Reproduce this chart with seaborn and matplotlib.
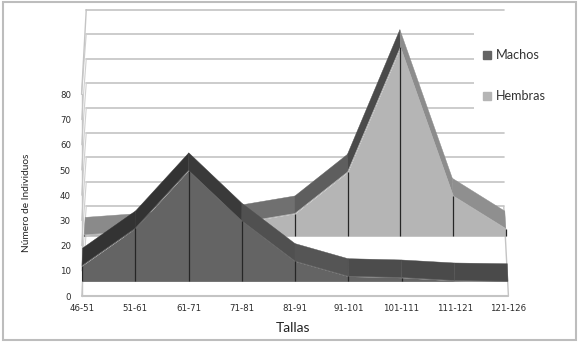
import matplotlib
matplotlib.use('Agg')
import matplotlib.pyplot as plt
from matplotlib.lines import Line2D
from matplotlib.patches import Rectangle
import pandas as pd
import seaborn as sns

tallas = ['46-51', '51-61', '61-71', '71-81', '81-91', '91-101', '101-111', '111-121', '121-126']
machos = [6.2, 21, 44, 24, 8, 2, 1.5, 0.3, 0]
hembras = [0.5, 2, 3.5, 5.5, 9, 25.5, 75, 16, 3]
y_ticks = [0, 10, 20, 30, 40, 50, 60, 70, 80]
back_grid = [0, 10, 20, 30, 40, 50, 60, 70, 80, 90]

# look of the fake 3d planes, in axis units
FLOOR_M, FLOOR_H, FLOOR_BACK = 5.8, 23.7, 25.8
DEPTH = 7.0
BACK_YSCALE = 0.976
strip_m = ['#333333', '#333333', '#3a3a3a', '#505050', '#555555', '#4c4c4c', '#4a4a4a', '#4a4a4a']
strip_h = ['#8a8a8a', '#858585', '#7d7d7d', '#707070', '#5e5e5e', '#4a4a4a', '#8c8c8c', '#8f8f8f']
FACE_M, FACE_H = '#646464', '#b5b5b5'
WALL = '#c4c4c4'

W, H = 580, 346
sns.set_theme(style='white')
plt.rcParams['font.family'] = ['Lato', 'DejaVu Sans']

fig = plt.figure(figsize=(W / 100, H / 100), dpi=100)
ax = fig.add_axes([82 / W, 1 - 296 / H, 426 / W, 286 / H])
ax.set_xlim(0, 8)
ax.set_ylim(0, 286 / 2.52)
ax.patch.set_alpha(0)
sns.despine(ax=ax, left=True, bottom=True)

# outer frame of the picture
fig.add_artist(Rectangle((3 / W, 1 - 340 / H), 573 / W, 338 / H, transform=fig.transFigure,
                         fc='white', ec='#bdbdbd', lw=1.5, zorder=-1))


def sx(i, s):
    # squeeze x towards the middle for planes further back
    return 4 + (i - 4) * s


# walls and gridlines
for k in back_grid:
    yb = FLOOR_BACK + BACK_YSCALE * k
    ax.plot([sx(0, 0.98), sx(8, 0.98)], [yb, yb], color=WALL, lw=1.2, zorder=1, clip_on=False)
    if k <= 80:
        ax.plot([sx(0, 1.002), sx(0, 0.98)], [k, yb], color='#d0d0d0', lw=0.8, zorder=1, clip_on=False)
ax.plot([sx(0, 1.002), sx(0, 0.98)], [80, FLOOR_BACK + BACK_YSCALE * 90], color=WALL, lw=1, zorder=1, clip_on=False)
ax.plot([sx(0, 1.002), sx(0, 1.002)], [0, 80], color=WALL, lw=1, zorder=1, clip_on=False)
ax.plot([sx(0, 1.002), sx(8, 1.002)], [0, 0], color=WALL, lw=1.5, zorder=1, clip_on=False)
ax.plot([sx(8, 1.002), sx(8, 0.98)], [0, FLOOR_BACK + BACK_YSCALE * 10], color=WALL, lw=1, zorder=1, clip_on=False)

# white box the legend sits on, it hides the gridlines there
fig.add_artist(Rectangle((474 / W, 1 - 122 / H), 45 / W, 92 / H, transform=fig.transFigure,
                         fc='white', ec='none', zorder=3))


def draw_series(values, floor, s_front, s_back, strips, face, z):
    n = len(values)
    xf = [sx(i, s_front) for i in range(n)]
    xb = [sx(i, s_back) for i in range(n)]
    tops = [floor + v for v in values]
    for i in range(n - 1):
        ax.fill([xf[i], xf[i + 1], xb[i + 1], xb[i]],
                [tops[i], tops[i + 1], tops[i + 1] + DEPTH, tops[i] + DEPTH],
                color=strips[i], lw=0.3, zorder=z, clip_on=False)
    ax.fill_between(xf, [floor] * n, tops, color=face, lw=0, zorder=z + 1)
    df = pd.DataFrame({'x': xf, 'top': tops})
    sns.lineplot(data=df, x='x', y='top', color=face, lw=0.6, sort=False, ax=ax, zorder=z + 1)
    ax.vlines(xf, floor, tops, color='#262626', lw=0.9, zorder=z + 2)


draw_series(hembras, FLOOR_H, 0.99, 0.985, strip_h, FACE_H, 5)
draw_series(machos, FLOOR_M, 1.0, 0.997, strip_m, FACE_M, 9)

ax.set_xticks(range(len(tallas)))
ax.set_xticklabels(tallas, fontsize=6.2, color='#2a2a2a', family='DejaVu Sans')
ax.set_yticks(y_ticks)
ax.set_yticklabels(y_ticks, fontsize=6.2, color='#2a2a2a', family='DejaVu Sans')
ax.tick_params(length=0, pad=5.5)
ax.tick_params(axis='y', pad=8)

ax.set_xlabel('Tallas', fontsize=10, color='#222222')
ax.xaxis.set_label_coords(0.495, -0.092)
ax.set_ylabel('Número de Individuos', fontsize=7.3, color='#222222')
ax.yaxis.set_label_coords(-0.12, 0.325)

handles = [Line2D([], [], ls='', marker='s', ms=5.2, color=FACE_M),
           Line2D([], [], ls='', marker='s', ms=5.2, color=FACE_H)]
leg = fig.legend(handles, ['Machos', 'Hembras'], loc='upper left', frameon=False,
                 bbox_to_anchor=(479 / W, 1 - 49 / H), fontsize=9.1, labelspacing=2.3,
                 handletextpad=0.15, handlelength=1.2, borderpad=0, borderaxespad=0)
leg.set_zorder(4)
for t in leg.get_texts():
    t.set_color('#333333')

fig.savefig('out.png', dpi=100)
